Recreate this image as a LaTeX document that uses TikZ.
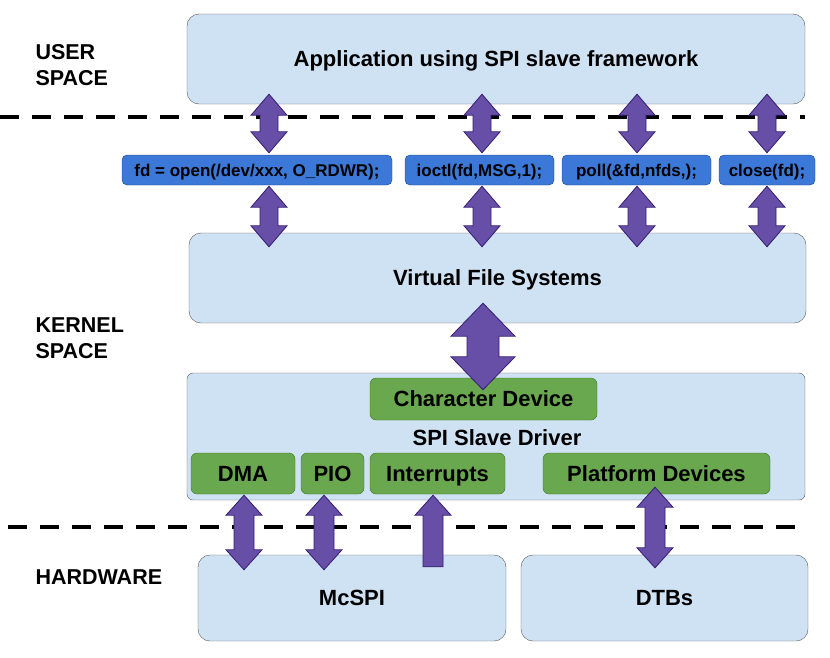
\documentclass[tikz,border=0pt]{standalone}
\usepackage{fontspec}
\setmainfont{Liberation Sans}
\usetikzlibrary{calc}

\definecolor{paleblue}{HTML}{CFE2F3}
\definecolor{callblue}{HTML}{3C78D8}
\definecolor{callline}{HTML}{1C4587}
\definecolor{drvgreen}{HTML}{6AA84F}
\definecolor{drvline}{HTML}{38761D}
\definecolor{arrowfill}{HTML}{674EA7}
\definecolor{arrowline}{HTML}{351C75}

% vertical double block arrow: top, bottom, half shaft, half head, head length
\newcommand{\fatarrow}[5]{%
\draw[blockarrow] let \p1=#1, \p2=#2 in
  (\x1,\y1) -- (\x1+#4,\y1-#5) -- (\x1+#3,\y1-#5) -- (\x1+#3,\y2+#5) -- (\x1+#4,\y2+#5)
  -- (\x1,\y2) -- (\x1-#4,\y2+#5) -- (\x1-#3,\y2+#5) -- (\x1-#3,\y1-#5) -- (\x1-#4,\y1-#5) -- cycle;}
% single block arrow pointing up
\newcommand{\uparrowblk}[5]{%
\draw[blockarrow] let \p1=#1, \p2=#2 in
  (\x1,\y1) -- (\x1+#4,\y1-#5) -- (\x1+#3,\y1-#5) -- (\x1+#3,\y2)
  -- (\x1-#3,\y2) -- (\x1-#3,\y1-#5) -- (\x1-#4,\y1-#5) -- cycle;}

\begin{document}
\begin{tikzpicture}[x=1pt,y=-1pt,
  bigtext/.style={font=\fontsize{22}{26}\selectfont\bfseries, text height=15.8pt, text depth=0pt},
  layer/.style={draw=black!65, fill=paleblue, rounded corners=12pt, bigtext},
  call/.style={draw=callline, fill=callblue, rounded corners=5pt, minimum height=30pt, inner sep=0pt,
    font=\fontsize{17}{20}\selectfont\bfseries, text height=12.2pt, text depth=0pt},
  part/.style={draw=drvline, fill=drvgreen, rounded corners=6pt, minimum height=41pt, inner sep=0pt, bigtext},
  space/.style={anchor=west, align=left, font=\fontsize{21.5}{26}\selectfont\bfseries},
  blockarrow/.style={fill=arrowfill, draw=arrowline, line width=0.8pt, line join=miter},
  border/.style={black, line width=4pt, dash pattern=on 19pt off 13pt}]
\useasboundingbox (0,0) rectangle (830,657);

\node[layer, minimum width=618pt, minimum height=90pt] (app) at (496,59) {Application using SPI slave framework};
\node[space] (user) at (32,65) {USER\\SPACE};
\draw[border] (0,117) -- (805,117);

\node[call, minimum width=270pt] (open) at (257,170) {fd = open(/dev/xxx, O\_RDWR);};
\node[call, minimum width=149pt] (ioctl) at (479.5,170) {ioctl(fd,MSG,1);};
\node[call, minimum width=149pt] (poll) at (636.5,170) {poll(\&fd,nfds,);};
\node[call, minimum width=96pt] (close) at (767,170) {close(fd);};

\node[layer, minimum width=617pt, minimum height=90pt] (vfs) at (497.5,278) {Virtual File Systems};
\node[space] (kernel) at (32,338) {KERNEL\\SPACE};

\node[layer, minimum width=618pt, minimum height=127pt, rounded corners=6pt] (spi) at (496,436.5) {};
\node[bigtext] (spiname) at (497,438) {SPI Slave Driver};
\node[part, minimum width=227pt, minimum height=42pt] (chardev) at (483.5,399) {Character Device};
\node[part, minimum width=104pt] (dma) at (243,473.5) {DMA};
\node[part, minimum width=63pt] (pio) at (332.5,473.5) {PIO};
\node[part, minimum width=135pt] (intr) at (437.5,473.5) {Interrupts};
\node[part, minimum width=227pt] (plat) at (656.5,473.5) {Platform Devices};

\draw[border] (8,527) -- (800,527);
\node[space] (hw) at (32,577) {HARDWARE};
\node[layer, minimum width=308pt, minimum height=86pt] (mcspi) at (352,598) {McSPI};
\node[layer, minimum width=287pt, minimum height=86pt] (dtbs) at (664.5,598) {DTBs};

\coordinate (c1) at (269,0);
\coordinate (c2) at (482,0);
\coordinate (c3) at (637,0);
\coordinate (c4) at (767,0);

\foreach \col/\callname in {c1/open, c2/ioctl, c3/poll, c4/close} {
  \fatarrow{($(app.south -| \col)+(0,-10)$)}{($(\callname.north -| \col)+(0,-2)$)}{9pt}{18pt}{21pt}
  \fatarrow{($(\callname.south -| \col)+(0,1)$)}{($(vfs.north -| \col)+(0,14)$)}{9pt}{18pt}{21pt}
}

\fatarrow{($(vfs.south)+(-14.5,-20)$)}{($(chardev.north)+(0,12)$)}{16pt}{32pt}{33pt}

\fatarrow{($(dma.south)+(1,1)$)}{($(mcspi.north -| dma.south)+(1,15)$)}{10pt}{18pt}{20pt}
\fatarrow{($(pio.south)+(-8.5,1)$)}{($(mcspi.north -| pio.south)+(-8.5,15)$)}{10pt}{18pt}{20pt}
\uparrowblk{($(intr.south)+(-4.5,1)$)}{($(mcspi.north -| intr.south)+(-4.5,12)$)}{10pt}{18pt}{20pt}
\fatarrow{($(plat.south)+(-1.5,-7)$)}{($(dtbs.north -| plat.south)+(-1.5,13)$)}{10pt}{18pt}{20pt}
\end{tikzpicture}
\end{document}
